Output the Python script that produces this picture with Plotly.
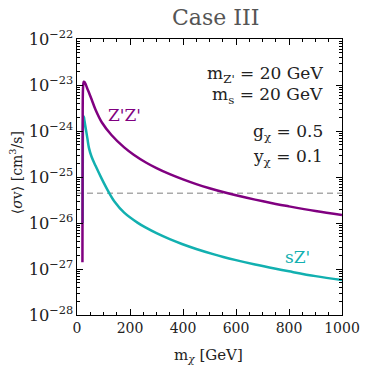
import plotly.graph_objects as go

# Z'Z' channel
m_zz = [20.5, 21.0, 21.5, 22.5, 24, 26, 28, 32, 38, 45, 55, 70, 94, 130, 178, 214,
        260, 300, 350, 400, 450, 500, 555, 600, 672, 750, 800, 900, 1000]
sv_zz = [1.4e-27, 1e-25, 3e-24, 8e-24, 1.08e-23, 1.18e-23, 1.17e-23, 1.06e-23, 8.6e-24,
         6.9e-24, 4.9e-24, 2.9e-24, 1.53e-24, 8.2e-25, 4.4e-25, 3.05e-25, 2.07e-25,
         1.56e-25, 1.15e-25, 8.85e-26, 7.0e-26, 5.7e-26, 4.65e-26, 4.0e-26, 3.22e-26,
         2.6e-26, 2.3e-26, 1.83e-26, 1.5e-26]

# sZ' channel
m_sz = [21.3, 22.0, 23.0, 24.5, 26, 28, 30, 33.5, 39, 45, 55, 70, 94, 117, 142, 178,
        228, 260, 300, 350, 396, 450, 517, 552, 600, 672, 750, 800, 900, 1000]
sv_sz = [1e-26, 5e-25, 1.6e-24, 2.1e-24, 2.0e-24, 1.7e-24, 1.45e-24, 1.1e-24, 7e-25,
         4.3e-25, 2.75e-25, 1.75e-25, 9.0e-26, 5.0e-26, 2.9e-26, 1.68e-26, 1.02e-26,
         7.9e-27, 6.0e-27, 4.45e-27, 3.5e-27, 2.73e-27, 2.08e-27, 1.83e-27, 1.56e-27,
         1.25e-27, 1.01e-27, 8.9e-28, 7.0e-28, 5.75e-28]

# thermal relic reference line
relic_x = [0, 1000]
relic_sv = 4.45e-26

PURPLE = "#800080"
TEAL = "#12b0b0"
FONT = "DejaVu Serif"

fig = go.Figure()
fig.add_trace(go.Scatter(x=relic_x, y=[relic_sv] * len(relic_x), mode="lines",
                         line=dict(color="#aaaaaa", width=1.5, dash="6px,4px"),
                         showlegend=False, hoverinfo="skip"))
fig.add_trace(go.Scatter(x=m_sz, y=sv_sz, mode="lines",
                         line=dict(color=TEAL, width=2.5, shape="spline", smoothing=1),
                         showlegend=False))
fig.add_trace(go.Scatter(x=m_zz, y=sv_zz, mode="lines",
                         line=dict(color=PURPLE, width=2.5, shape="spline", smoothing=1),
                         showlegend=False))

axis_common = dict(showline=True, linecolor="black", linewidth=1.2, mirror="allticks",
                   ticks="inside", ticklen=6, tickcolor="black", showgrid=False,
                   zeroline=False)

fig.update_xaxes(range=[0, 1000], dtick=200, tick0=0, ticklabeloverflow="allow",
                 tickfont=dict(family=FONT, size=14, color="#222"),
                 minor=dict(ticks="inside", dtick=50, ticklen=3, tickcolor="black"),
                 **axis_common)
fig.update_yaxes(type="log", range=[-28, -22], dtick=1, exponentformat="power",
                 tickfont=dict(family=FONT, size=13, color="#222"),
                 minor=dict(ticks="inside", dtick="D1", ticklen=3, tickcolor="black"),
                 **axis_common)

ann = []
txt_font = dict(family=FONT, size=17, color="#222")
for text, y in [("m<sub>Z'</sub> = 20 GeV", 0.870),
                ("m<sub>s</sub> = 20 GeV", 0.795),
                ("g<sub>χ</sub> = 0.5", 0.662),
                ("y<sub>χ</sub> = 0.1", 0.572)]:
    ann.append(dict(text=text, x=0.935, y=y, xref="paper", yref="paper",
                    xanchor="right", yanchor="middle", showarrow=False, font=txt_font))
ann.append(dict(text="Z'Z'", x=0.181, y=0.725, xref="paper", yref="paper",
                xanchor="center", yanchor="middle",
                showarrow=False, font=dict(family=FONT, size=17, color=PURPLE)))
ann.append(dict(text="sZ'", x=0.831, y=0.210, xref="paper", yref="paper",
                xanchor="center", yanchor="middle",
                showarrow=False, font=dict(family=FONT, size=17, color=TEAL)))
ann.append(dict(text="⟨<i>σ</i>v⟩ [cm<sup>3</sup>/s]", x=-0.229, y=0.515,
                xref="paper", yref="paper", textangle=-90, showarrow=False,
                xanchor="center", yanchor="middle",
                font=dict(family=FONT, size=14, color="#222")))
ann.append(dict(text="m<sub><i>χ</i></sub> [GeV]", x=0.498, y=-0.145,
                xref="paper", yref="paper", showarrow=False,
                xanchor="center", yanchor="middle",
                font=dict(family=FONT, size=15, color="#222")))
ann.append(dict(text="Case III", x=0.523, y=1.0 + (39 - 17.5) / 276,
                xref="paper", yref="paper", showarrow=False,
                xanchor="center", yanchor="middle",
                font=dict(family=FONT, size=22, color="#555")))

fig.update_layout(width=372, height=366, margin=dict(l=77, r=18, t=39, b=51),
                  paper_bgcolor="white", plot_bgcolor="white",
                  annotations=ann, showlegend=False)

fig.write_html("out.html")
